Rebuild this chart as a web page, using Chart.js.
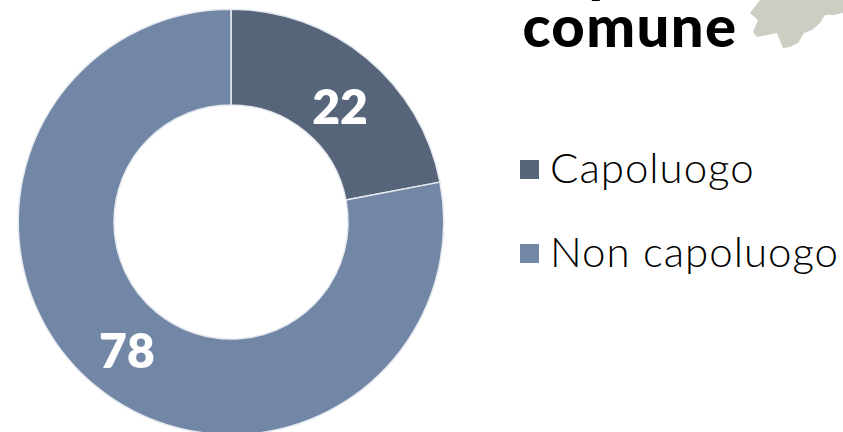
<!DOCTYPE html>
<html>
<head>
<meta charset="utf-8">
<script src="https://cdn.jsdelivr.net/npm/chart.js@4"></script>
<style>
html, body { margin: 0; padding: 0; width: 843px; height: 432px; overflow: hidden; background: #fff; font-family: Lato, sans-serif; }
#wrap { position: absolute; left: 0; top: 0; width: 462px; height: 444px; }
#title { position: absolute; left: 480px; width: 300px; top: -59px; text-align: center; font-size: 58px; line-height: 56px; letter-spacing: 1.4px; font-weight: 900; color: #000; }
#map { position: absolute; left: 0; top: 0; }
.item { position: absolute; left: 520px; font-size: 42px; line-height: 44px; letter-spacing: 1px; color: #000; white-space: nowrap; font-weight: 300; }
.item i { position: absolute; left: 0; top: 15px; width: 19px; height: 19px; }
.item span { margin-left: 30px; }
</style>
</head>
<body>
<svg id="map" width="843" height="60"><polygon fill="#cdcdc4" points="760,0 750,13 758,20 753,32 757,37 777,33 783,48 790,47 798,43 804,33 812,30 820,23 825,15 834,15 843,13 843,0"/></svg>
<div id="title">Tipo di<br>comune</div>
<div id="wrap"><canvas id="donut"></canvas></div>
<div id="legend"></div>
<script>
const categories = ['Capoluogo', 'Non capoluogo'];
const values = [22, 78];
const colors = ['#566579', '#7287a5'];
const legendTops = [145, 229];
const labelShift = [[4, 14], [1, 3]];

document.getElementById('legend').innerHTML = categories.map((name, i) => {
    return `<div class="item" style="top:${legendTops[i]}px"><i style="background:${colors[i]}"></i><span>${name}</span></div>`;
}).join('');

const sliceLabels = {
    id: 'sliceLabels',
    afterDatasetsDraw(chart) {
        const ctx = chart.ctx;
        ctx.save();
        ctx.fillStyle = '#fff';
        ctx.font = '800 48px Lato';
        ctx.textAlign = 'center';
        ctx.textBaseline = 'middle';
        chart.getDatasetMeta(0).data.forEach((arc, i) => {
            const p = arc.tooltipPosition();
            ctx.fillText(values[i], p.x + labelShift[i][0], p.y + labelShift[i][1]);
        });
        ctx.restore();
    }
};

new Chart(document.getElementById('donut'), {
    type: 'doughnut',
    data: {
        labels: categories,
        datasets: [{
            data: values,
            backgroundColor: colors,
            borderColor: '#e6eaf0',
            borderWidth: 1.5
        }]
    },
    options: {
        responsive: true,
        maintainAspectRatio: false,
        animation: false,
        cutout: '55%',
        layout: { padding: 8.5 },
        plugins: { legend: { display: false }, tooltip: { enabled: false } }
    },
    plugins: [sliceLabels]
});
</script>
</body>
</html>
